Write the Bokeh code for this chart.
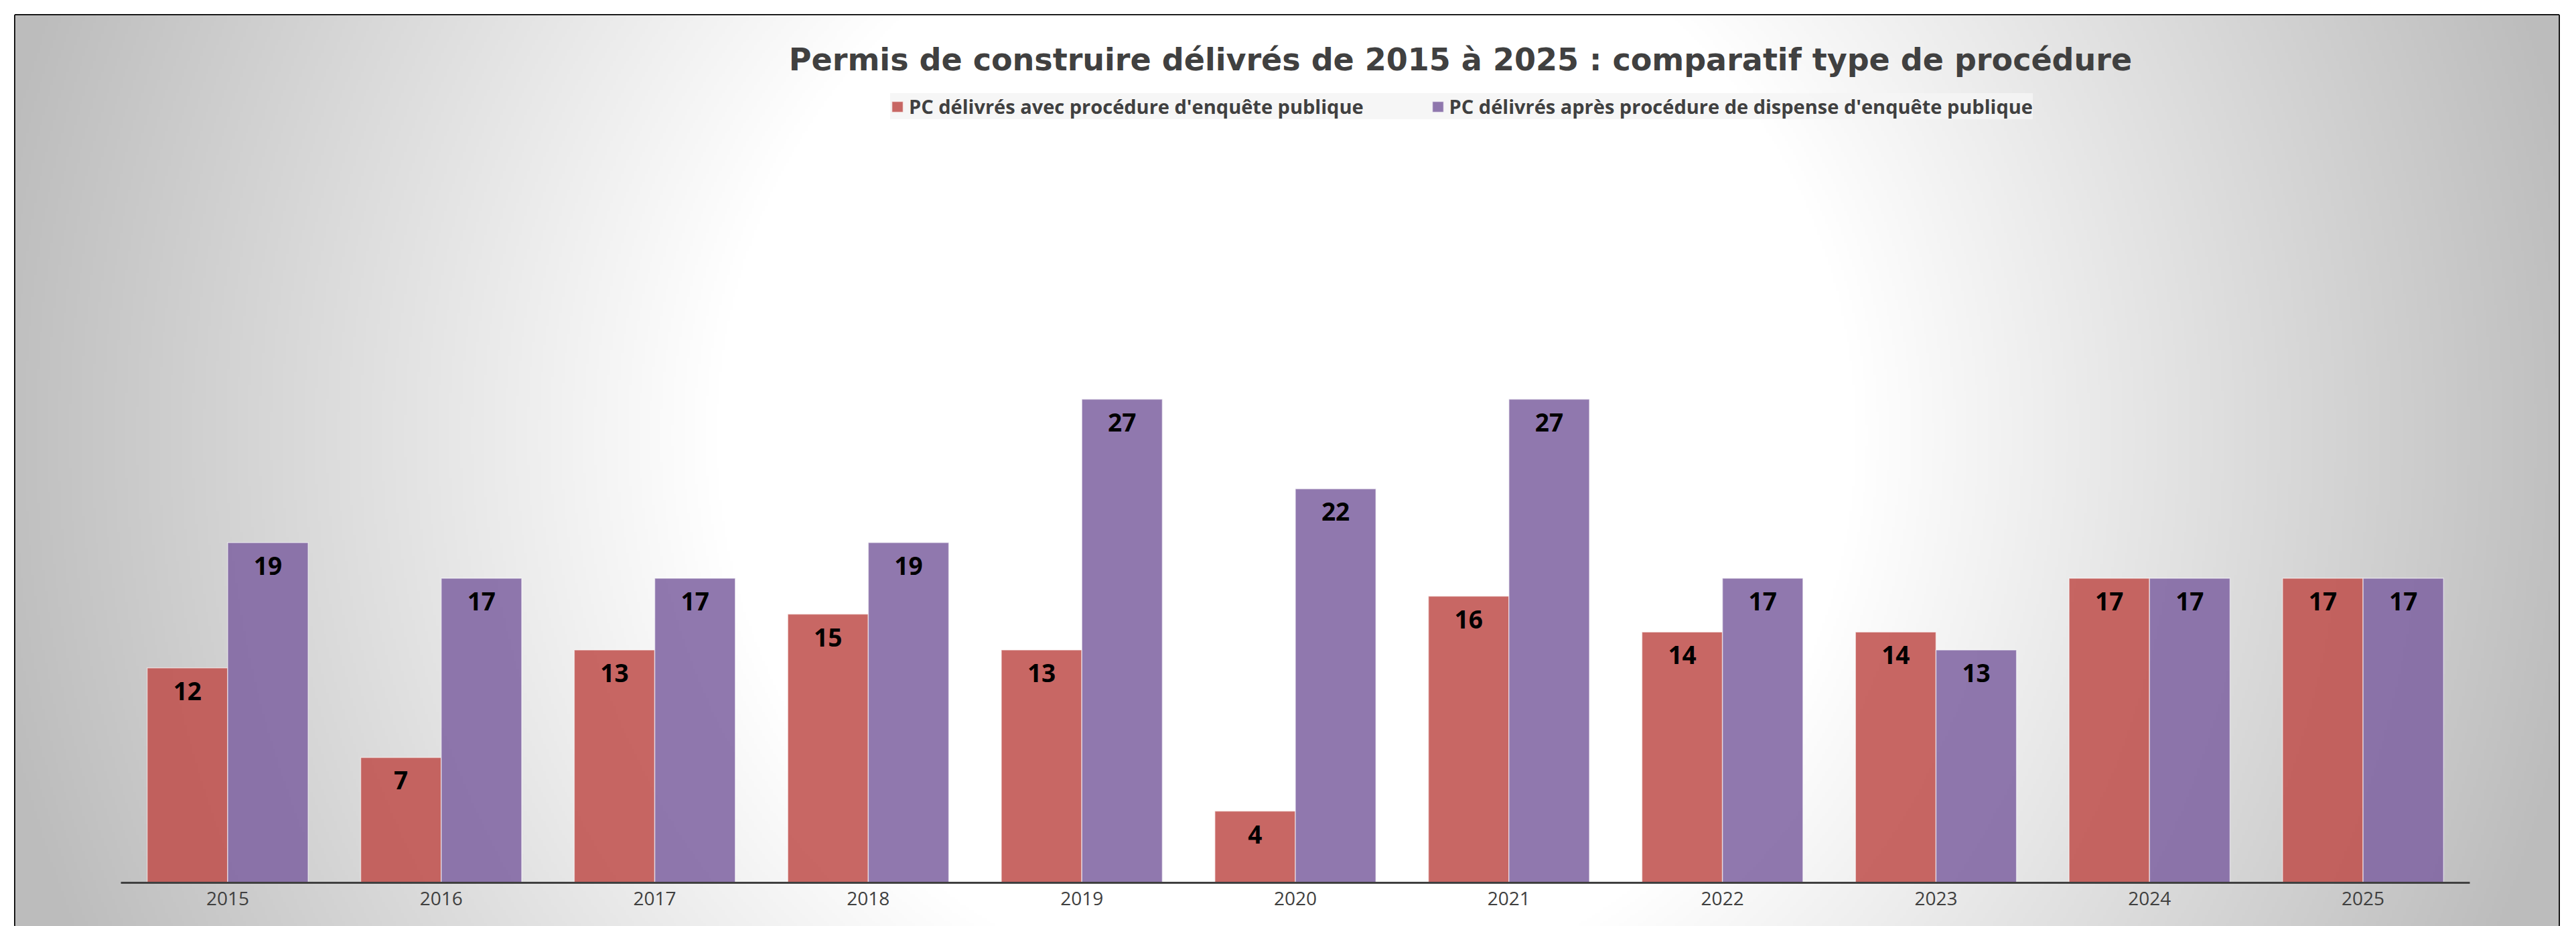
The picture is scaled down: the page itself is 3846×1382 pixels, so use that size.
import numpy as np
from bokeh.plotting import figure
from bokeh.models import Range1d, FixedTicker, Label
from bokeh.core.properties import value
from bokeh.embed import file_html
from bokeh.resources import INLINE

# ---------------- data ----------------
title_text = "Permis de construire délivrés de 2015 à 2025 : comparatif type de procédure"
years = ["2015", "2016", "2017", "2018", "2019", "2020", "2021", "2022", "2023", "2024", "2025"]
avec_enquete = [12, 7, 13, 15, 13, 4, 16, 14, 14, 17, 17]
dispense_enquete = [19, 17, 17, 19, 27, 22, 27, 17, 13, 17, 17]
series_names = [
    "PC délivrés avec procédure d'enquête publique",
    "PC délivrés après procédure de dispense d'enquête publique",
]

# ---------------- layout ----------------
W, H = 3846, 1382
ML, MR, MT, MB = 22, 26, 22, 0
frame_w = W - ML - MR
frame_h = H - MT - MB
ppu_x = 3507 / 11.0      # pixels per category
ppu_y = 26.73            # pixels per unit
left_pad_px = 180 - ML   # frame left -> first category edge
zero_from_top = 1317 - MT  # frame top -> y=0

x_start = -0.5 - left_pad_px / ppu_x
x_end = x_start + frame_w / ppu_x
y_end = zero_from_top / ppu_y
y_start = y_end - frame_h / ppu_y

p = figure(width=W, height=H, output_backend="svg", toolbar_location=None,
           x_range=Range1d(x_start, x_end), y_range=Range1d(y_start, y_end),
           y_axis_location=None, min_border_left=ML, min_border_right=MR,
           min_border_top=MT, min_border_bottom=MB)
p.border_fill_color = "white"
p.outline_line_color = "black"
p.outline_line_width = 3
p.xgrid.visible = False
p.ygrid.visible = False

# ---------------- radial background gradient ----------------
nx, ny = 950, 340
fx0, fy0 = float(ML), float(MT)  # frame top-left in page pixels
xs = fx0 + (np.arange(nx) + 0.5) * frame_w / nx
ys = (fy0 + frame_h) - (np.arange(ny) + 0.5) * frame_h / ny
XX, YY = np.meshgrid(xs, ys)
cx, cy = 1920.0, 650.0
d = np.sqrt((XX - cx) ** 2 + (YY - cy) ** 2)
v = np.clip(255 - 0.06 * np.maximum(0, d - 850), 188, 255).astype(np.uint8)
img = np.empty((ny, nx), dtype=np.uint32)
view = img.view(dtype=np.uint8).reshape((ny, nx, 4))
view[..., 0] = v
view[..., 1] = v
view[..., 2] = v
view[..., 3] = 255
p.image_rgba(image=[img], x=x_start, y=y_start, dw=x_end - x_start, dh=y_end - y_start, level="image")

# ---------------- bars ----------------
idx = np.arange(len(years))
w = 0.377
x_red = idx - w / 2
x_pur = idx + w / 2
p.vbar(x=x_red, top=avec_enquete, bottom=0, width=w, fill_color="#C0504D", fill_alpha=0.87,
       line_color="white", line_alpha=0.55, line_width=1.5, legend_label=series_names[0])
p.vbar(x=x_pur, top=dispense_enquete, bottom=0, width=w, fill_color="#8064A2", fill_alpha=0.87,
       line_color="white", line_alpha=0.55, line_width=1.5, legend_label=series_names[1])

lab_font = value("'Liberation Sans Narrow', 'Open Sans'")
p.text(x=x_red, y=avec_enquete, text=[str(a) for a in avec_enquete], text_align="center",
       text_baseline="top", y_offset=21, text_font=lab_font, text_font_style="bold",
       text_font_size="37px", text_color="black")
p.text(x=x_pur, y=dispense_enquete, text=[str(a) for a in dispense_enquete], text_align="center",
       text_baseline="top", y_offset=21, text_font=lab_font, text_font_style="bold",
       text_font_size="37px", text_color="black")

# ---------------- axis ----------------
ax = p.xaxis[0]
ax.fixed_location = 0
ax.bounds = (-0.5, len(years) - 0.5)
ax.ticker = FixedTicker(ticks=[int(i) for i in idx])
ax.major_label_overrides = {int(i): years[i] for i in idx}
ax.axis_line_color = "#404040"
ax.axis_line_width = 3
ax.major_tick_line_color = None
ax.minor_tick_line_color = None
ax.major_tick_in = 0
ax.major_tick_out = 0
ax.major_label_standoff = 13
ax.major_label_text_font = "Open Sans"
ax.major_label_text_font_size = "28px"
ax.major_label_text_color = "#404040"

# ---------------- title ----------------
title = Label(x=(2180 - 180) / ppu_x - 0.5, y=(1317 - 88) / ppu_y, text=title_text,
              text_align="center", text_baseline="middle", text_font="DejaVu Sans",
              text_font_style="bold", text_font_size="46px", text_color="#404040")
p.add_layout(title)

# ---------------- legend ----------------
lg = p.legend[0]
lg.orientation = "horizontal"
lg.location = (1329 - ML, (MT + frame_h) - 178)
lg.glyph_width = 21
lg.glyph_height = 20
lg.label_standoff = 7
lg.spacing = 100
lg.padding = 12
lg.margin = 0
lg.label_text_font = "Open Sans"
lg.label_text_font_style = "bold"
lg.label_text_font_size = "29px"
lg.label_text_color = "#404040"
lg.background_fill_color = "#F5F5F5"
lg.background_fill_alpha = 0.85
lg.border_line_color = None

open("out.html", "w").write(file_html(p, INLINE))
